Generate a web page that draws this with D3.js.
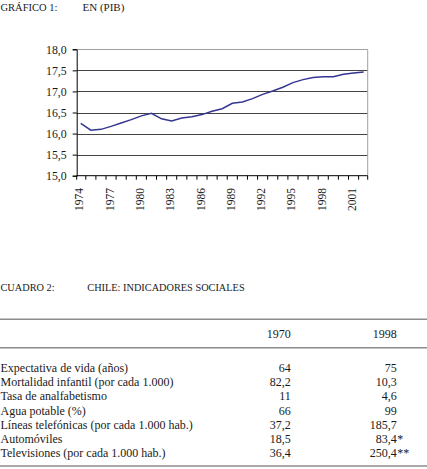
<!DOCTYPE html>
<html>
<head>
<meta charset="utf-8">
<script src="https://cdn.jsdelivr.net/npm/d3@7"></script>
<style>
    body { margin: 0; background: #fff; }
    svg { display: block; }
    svg text { font-family: "Liberation Serif", "Times New Roman", serif; }
</style>
</head>
<body>
<svg id="grafico" width="427" height="469"></svg>
<script>
// datos del grafico 1
const anios = [1974, 1975, 1976, 1977, 1978, 1979, 1980, 1981, 1982, 1983,
    1984, 1985, 1986, 1987, 1988, 1989, 1990, 1991, 1992, 1993,
    1994, 1995, 1996, 1997, 1998, 1999, 2000, 2001, 2002];
const valores = [16.24, 16.08, 16.10, 16.17, 16.25, 16.33, 16.42, 16.48, 16.35, 16.30,
    16.37, 16.40, 16.45, 16.53, 16.59, 16.72, 16.75, 16.83, 16.93, 17.01,
    17.10, 17.21, 17.28, 17.33, 17.35, 17.35, 17.41, 17.44, 17.46];
const ticksY = [15, 15.5, 16, 16.5, 17, 17.5, 18];
const etiquetasX = [1974, 1977, 1980, 1983, 1986, 1989, 1992, 1995, 1998, 2001];

// datos del cuadro 2
const columnas = ["1970", "1998"];
const indicadores = [
    "Expectativa de vida (años)",
    "Mortalidad infantil (por cada 1.000)",
    "Tasa de analfabetismo",
    "Agua potable (%)",
    "Líneas telefónicas (por cada 1.000 hab.)",
    "Automóviles",
    "Televisiones (por cada 1.000 hab.)"
];
const valores1970 = ["64", "82,2", "11", "66", "37,2", "18,5", "36,4"];
const valores1998 = ["75", "10,3", "4,6", "99", "185,7", "83,4", "250,4"];
const notas1998 = ["", "", "", "", "", "*", "**"];

const svg = d3.select("#grafico");
const colorTexto = "#1a1a1a";
const fuente = "'Liberation Serif', 'Times New Roman', serif";

function texto(g, x, y, tam, contenido) {
    return g.append("text")
        .attr("x", x)
        .attr("y", y)
        .style("font-family", fuente)
        .style("font-size", tam)
        .attr("fill", colorTexto)
        .text(contenido);
}

// encabezado grafico
texto(svg, 0.5, 11, "10.5px", "GRÁFICO 1:");
texto(svg, 82.5, 11, "11px", "EN (PIB)");

const area = { left: 76.7, right: 367.7, top: 49.3, bottom: 175.7 };

const x = d3.scalePoint()
    .domain(anios)
    .range([area.left, area.right])
    .padding(0.4);

const y = d3.scaleLinear()
    .domain([15, 18])
    .range([area.bottom, area.top]);

const fmt = v => d3.format(".1f")(v).replace(".", ",");

// lineas de division
svg.append("g")
    .selectAll("line")
    .data(ticksY.filter(v => v > 15 && v < 18))
    .enter()
    .append("line")
    .attr("x1", area.left)
    .attr("x2", area.right)
    .attr("y1", d => Math.round(y(d)) + 0.5)
    .attr("y2", d => Math.round(y(d)) + 0.5)
    .attr("stroke", "#444");

// borde superior y derecho
svg.append("path")
    .attr("d", `M${area.left},${Math.round(area.top) + 0.5}H${area.right}V${area.bottom}`)
    .attr("fill", "none")
    .attr("stroke", "#a0a0a0");

// eje Y
const ejeY = svg.append("g")
    .attr("transform", `translate(${area.left},0)`)
    .call(d3.axisLeft(y).tickValues(ticksY).tickFormat(fmt).tickSize(4).tickPadding(6));
ejeY.select(".domain").attr("stroke", "#000");
ejeY.selectAll("line").attr("stroke", "#000");
ejeY.selectAll("text")
    .style("font-size", "11.8px")
    .style("font-family", fuente)
    .attr("fill", colorTexto);

// eje X
const paso = x.step();
const limites = [area.left].concat(anios.slice(1).map(a => x(a) - paso / 2)).concat([area.right]);

svg.append("line")
    .attr("x1", area.left).attr("x2", area.right)
    .attr("y1", area.bottom).attr("y2", area.bottom)
    .attr("stroke", "#000");

svg.append("g")
    .selectAll("line")
    .data(limites)
    .enter()
    .append("line")
    .attr("x1", d => d).attr("x2", d => d)
    .attr("y1", area.bottom).attr("y2", area.bottom + 4)
    .attr("stroke", "#000");

svg.append("g")
    .selectAll("text")
    .data(etiquetasX)
    .enter()
    .append("text")
    .attr("transform", d => `translate(${x(d) - 1.5},188) rotate(-90)`)
    .attr("text-anchor", "end")
    .attr("dy", "0.35em")
    .style("font-family", fuente)
    .style("font-size", "11.5px")
    .attr("fill", colorTexto)
    .text(d => d);

// serie
const linea = d3.line()
    .x((d, i) => x(anios[i]))
    .y(d => y(d));

svg.append("path")
    .datum(valores)
    .attr("d", linea)
    .attr("fill", "none")
    .attr("stroke", "#353592")
    .attr("stroke-width", 1.5);

// cuadro 2
texto(svg, 0.5, 291, "10.3px", "CUADRO 2:");
texto(svg, 87.3, 291, "10.3px", "CHILE: INDICADORES SOCIALES");

[319.3, 347.7, 466].forEach(yy => {
    svg.append("line")
        .attr("x1", 0).attr("x2", 427)
        .attr("y1", yy).attr("y2", yy)
        .attr("stroke", "#8c8c8c")
        .attr("stroke-width", 1.6);
});

const colX = [290.7, 396.7];
const filaY = i => 372 + i * 14.2;

columnas.forEach((c, i) => {
    texto(svg, colX[i], 337.7, "12px", c).attr("text-anchor", "end");
});

indicadores.forEach((nombre, i) => {
    texto(svg, 0.5, filaY(i), "12px", nombre);
    texto(svg, colX[0], filaY(i), "12px", valores1970[i]).attr("text-anchor", "end");
    texto(svg, colX[1], filaY(i), "12px", valores1998[i]).attr("text-anchor", "end");
    if (notas1998[i]) {
        texto(svg, colX[1] + 0.5, filaY(i), "12px", notas1998[i]);
    }
});
</script>
</body>
</html>
